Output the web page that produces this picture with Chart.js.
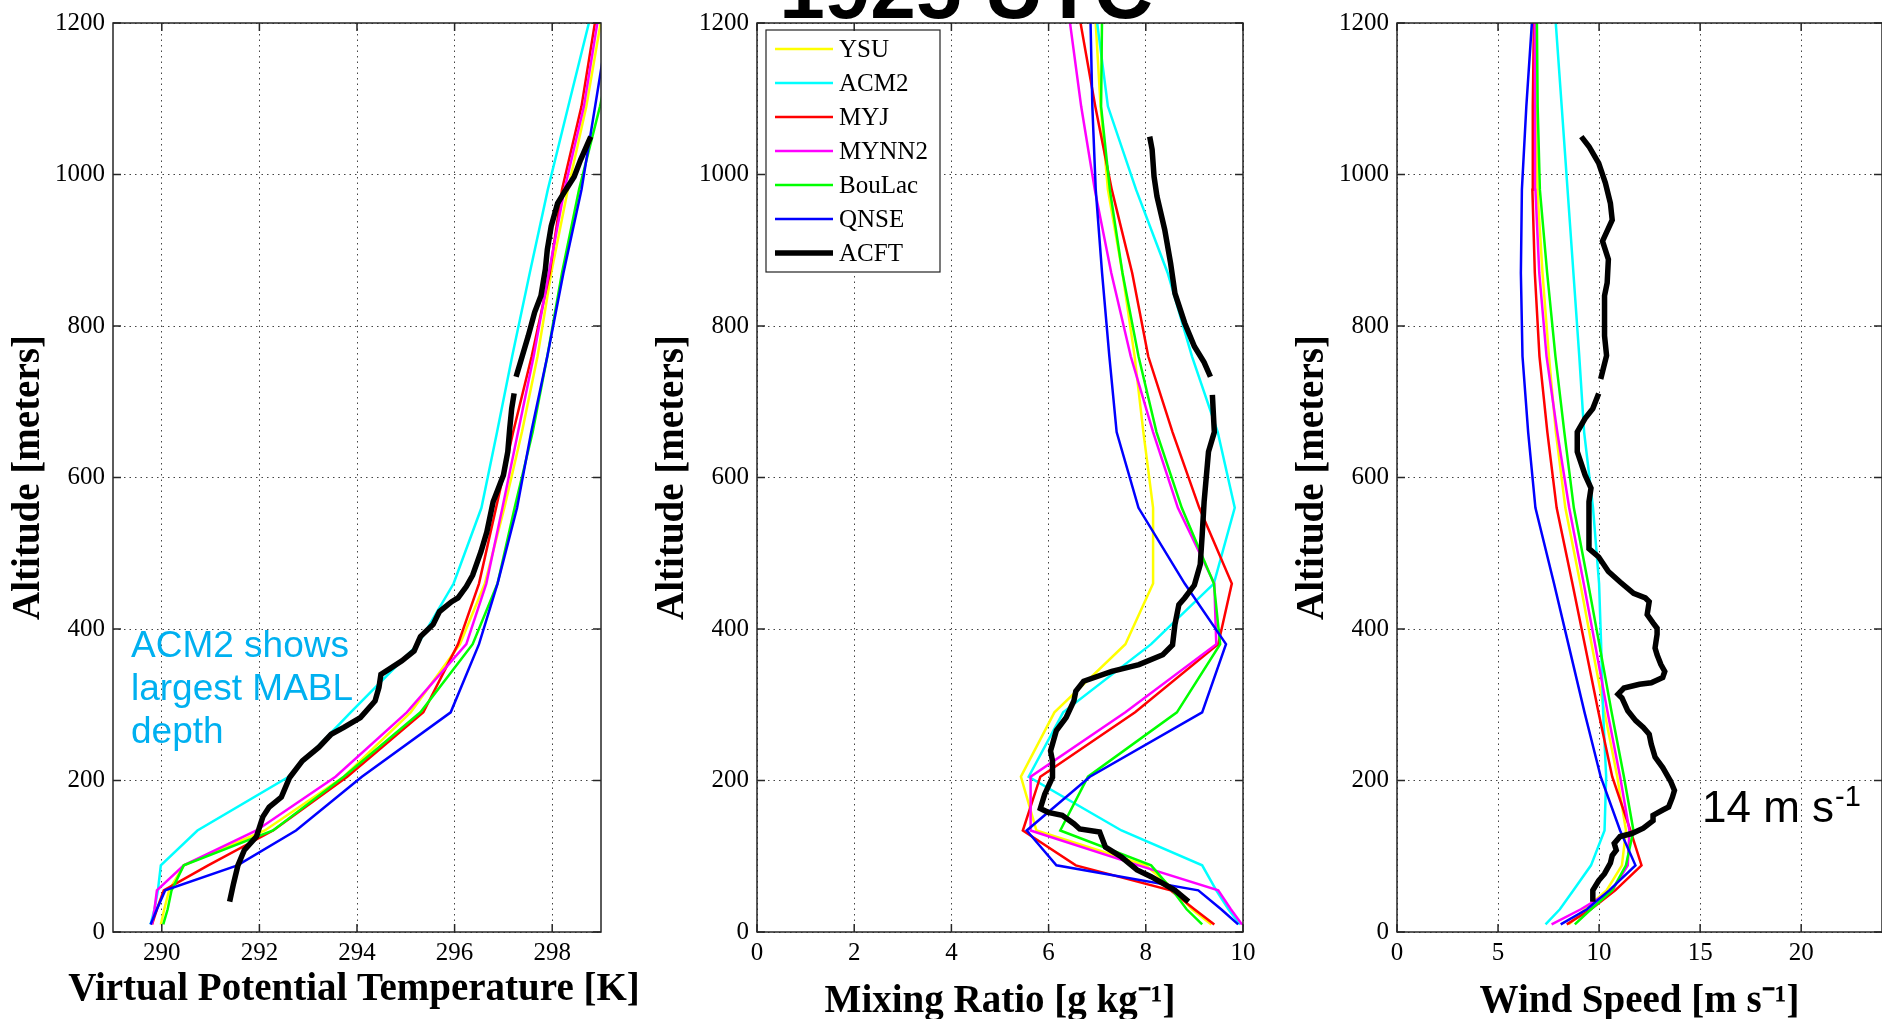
<!DOCTYPE html>
<html>
<head>
<meta charset="utf-8">
<script src="https://cdn.jsdelivr.net/npm/chart.js@4.4.1/dist/chart.umd.min.js"></script>
<style>
  html, body { margin: 0; padding: 0; background: #fff; overflow: hidden; }
  #wrap { position: relative; width: 1882px; height: 1019px; }
  canvas { position: absolute; left: 0; top: 0; }
</style>
</head>
<body>
<div id="wrap">
  <canvas id="thetaChart" width="1882" height="1019"></canvas>
  <canvas id="mixChart" width="1882" height="1019"></canvas>
  <canvas id="windChart" width="1882" height="1019"></canvas>
</div>
<script>
// Model levels (altitude, m)
const modelAlt = [10, 30, 55, 88, 134, 205, 290, 380, 460, 560, 660, 760, 870, 980, 1090, 1210];
const schemes = ['YSU', 'ACM2', 'MYJ', 'MYNN2', 'BouLac', 'QNSE'];
const schemeColors = ['#ffff00', '#00ffff', '#ff0000', '#ff00ff', '#00ff00', '#0000ff'];
const altTicks = [0, 200, 400, 600, 800, 1000, 1200];

// Virtual potential temperature [K]
const thetaYSU    = [289.98, 290.05, 290.15, 290.45, 292.11, 293.73, 295.10, 296.11, 296.62, 297.02, 297.38, 297.70, 297.98, 298.32, 298.70, 299.02];
const thetaACM2   = [289.77, 289.85, 289.92, 289.98, 290.73, 292.60, 293.87, 295.25, 295.98, 296.55, 296.87, 297.18, 297.54, 297.91, 298.33, 298.79];
const thetaMYJ    = [289.80, 289.90, 290.04, 290.95, 292.28, 293.80, 295.36, 296.07, 296.50, 296.85, 297.20, 297.58, 297.95, 298.20, 298.60, 298.90];
const thetaMYNN2  = [289.80, 289.85, 289.90, 290.45, 291.94, 293.56, 295.02, 296.24, 296.65, 296.98, 297.30, 297.62, 297.93, 298.25, 298.65, 298.95];
const thetaBouLac = [290.03, 290.12, 290.20, 290.45, 292.28, 293.73, 295.30, 296.37, 296.88, 297.23, 297.60, 297.90, 298.20, 298.55, 298.98, 299.38];
const thetaQNSE   = [289.77, 289.90, 290.07, 291.55, 292.75, 294.10, 295.92, 296.50, 296.88, 297.28, 297.57, 297.90, 298.23, 298.60, 298.88, 299.18];
const thetaTicks  = [290, 292, 294, 296, 298];

// aircraft profile (null = gap)
const acftThetaAlt = [40, 64, 88, 108, 126, 152, 165, 178, 204, 226, 244, 261, 270, 283, 305, 323, 340, 347, 358, 371, 390, 406, 423, 436, 441, 456, 471, 502, 528, 568, 603, 634, 665, 691, 711, null,
                      733, 761, 787, 818, 840, 875, 901, 932, 962, 980, 997, 1019, 1050];
const acftThetaVal = [291.39, 291.47, 291.56, 291.69, 291.94, 292.07, 292.20, 292.45, 292.62, 292.88, 293.22, 293.47, 293.73, 294.07, 294.37, 294.45, 294.49, 294.66, 294.92, 295.17, 295.30, 295.56, 295.69, 295.94, 296.07, 296.24, 296.37, 296.54, 296.66, 296.79, 297.00, 297.09, 297.13, 297.17, 297.22, null,
                      297.26, 297.39, 297.51, 297.64, 297.77, 297.86, 297.90, 297.98, 298.11, 298.28, 298.45, 298.58, 298.79];

// Mixing ratio [g/kg]
const mixYSU    = [9.35, 8.95, 8.60, 8.00, 5.75, 5.43, 6.12, 7.58, 8.15, 8.15, 7.95, 7.77, 7.52, 7.22, 7.07, 6.96];
const mixACM2   = [9.94, 9.70, 9.45, 9.16, 7.50, 5.59, 6.30, 8.11, 9.40, 9.83, 9.48, 8.95, 8.45, 7.80, 7.22, 6.98];
const mixMYJ    = [9.41, 9.00, 8.51, 6.56, 5.47, 5.83, 7.78, 9.49, 9.77, 9.10, 8.55, 8.05, 7.72, 7.30, 6.96, 6.63];
const mixMYNN2  = [9.98, 9.75, 9.49, 7.85, 5.63, 5.63, 7.58, 9.45, 9.41, 8.66, 8.15, 7.69, 7.29, 6.95, 6.67, 6.42];
const mixBouLac = [9.16, 8.84, 8.55, 8.11, 6.24, 6.81, 8.64, 9.53, 9.40, 8.74, 8.22, 7.85, 7.52, 7.26, 7.08, 7.10];
const mixQNSE   = [9.90, 9.55, 9.08, 6.16, 5.55, 6.85, 9.16, 9.65, 8.80, 7.85, 7.40, 7.25, 7.10, 6.97, 6.90, 6.86];
const mixTicks  = [0, 2, 4, 6, 8, 10];

const acftMixAlt = [40, 55, 73, 82, 99, 112, 132, 136, 143, 154, 158, 163, 182, 204, 226, 239, 266, 283, 305, 318, 331, 344, 353, 366, 379, 406, 432, 441, 458, 485, 524, 568, 634, 660, 709, null,
                    733, 752, 773, 804, 843, 883, 927, 971, 997, 1033, 1050];
const acftMixVal = [8.88, 8.60, 8.11, 7.82, 7.50, 7.17, 7.05, 6.64, 6.52, 6.28, 5.99, 5.83, 5.92, 6.08, 6.08, 6.04, 6.16, 6.36, 6.52, 6.56, 6.72, 7.30, 7.86, 8.35, 8.55, 8.60, 8.68, 8.80, 9.00, 9.12, 9.16, 9.20, 9.29, 9.41, 9.37, null,
                    9.33, 9.20, 9.00, 8.80, 8.60, 8.51, 8.39, 8.23, 8.17, 8.13, 8.08];

// Wind speed [m/s]
const windYSU    = [8.50, 9.30, 10.37, 11.13, 11.33, 10.90, 10.27, 9.63, 9.07, 8.33, 7.86, 7.52, 7.20, 6.95, 6.87, 6.85];
const windACM2   = [7.35, 8.06, 8.73, 9.60, 10.27, 10.35, 10.20, 10.10, 10.00, 9.70, 9.26, 9.02, 8.73, 8.44, 8.15, 7.83];
const windMYJ    = [8.40, 9.60, 10.80, 12.10, 11.55, 10.65, 9.97, 9.29, 8.68, 7.90, 7.44, 7.05, 6.82, 6.70, 6.72, 6.78];
const windMYNN2  = [7.65, 9.10, 10.65, 11.42, 11.50, 11.04, 10.42, 9.80, 9.24, 8.52, 7.93, 7.40, 7.04, 6.85, 6.83, 6.82];
const windBouLac = [8.80, 9.60, 10.65, 11.33, 11.70, 11.23, 10.62, 10.01, 9.46, 8.75, 8.28, 7.84, 7.43, 7.07, 6.96, 6.92];
const windQNSE   = [8.10, 9.40, 10.50, 11.80, 11.04, 10.08, 9.28, 8.48, 7.77, 6.85, 6.49, 6.21, 6.13, 6.18, 6.40, 6.70];
const windTicks  = [0, 5, 10, 15, 20];

const acftWindAlt = [40, 55, 68, 77, 91, 101, 108, 117, 126, 130, 137, 147, 154, 161, 165, 178, 187, 199, 217, 231, 248, 261, 270, 279, 292, 309, 314, 322, 327, 329, 336, 344, 353, 366, 375, 393, 401, 408, 419, 436, 441, 447, 462, 476, 495, 506, 524, 568, 586, 603, 634, 660, 678, 691, 711, null,
                     730, 761, 787, 840, 857, 888, 912, 940, 962, 989, 1015, 1037, 1050];
const acftWindVal = [9.69, 9.69, 9.98, 10.27, 10.56, 10.65, 10.85, 10.75, 11.04, 11.62, 12.19, 12.67, 12.67, 13.15, 13.44, 13.63, 13.73, 13.54, 13.15, 12.77, 12.58, 12.48, 12.19, 11.81, 11.42, 11.13, 10.94, 11.23, 12.00, 12.58, 13.15, 13.25, 13.06, 12.87, 12.77, 12.87, 12.87, 12.67, 12.38, 12.48, 12.29, 11.71, 11.04, 10.46, 9.98, 9.50, 9.50, 9.50, 9.60, 9.31, 8.92, 8.92, 9.31, 9.69, 9.98, null,
                     10.08, 10.37, 10.27, 10.27, 10.40, 10.46, 10.17, 10.65, 10.56, 10.31, 9.98, 9.50, 9.12];

Chart.defaults.font.family = '"Liberation Serif", "Times New Roman", serif';
Chart.defaults.color = '#000';

const tickFont = { size: 25 };

function toPoints(vals, alts) {
  return vals.map((v, i) => (v === null ? { x: null, y: null } : { x: v, y: alts[i] }));
}

function buildDatasets(modelSeries, acftVal, acftAlt) {
  const sets = modelSeries.map((vals, i) => ({
    label: schemes[i],
    data: toPoints(vals, modelAlt),
    borderColor: schemeColors[i],
    borderWidth: 2.5,
    showLine: true,
    pointRadius: 0,
    spanGaps: false,
    order: 10 - i
  }));
  sets.push({
    label: 'ACFT',
    data: toPoints(acftVal, acftAlt),
    borderColor: '#000',
    borderWidth: 5.5,
    showLine: true,
    pointRadius: 0,
    spanGaps: false,
    order: 1
  });
  return sets;
}

// box round the axes with inward ticks on all four sides
const framePlugin = {
  id: 'frame',
  afterDraw(chart) {
    const { ctx, chartArea: a, scales } = chart;
    ctx.save();
    ctx.strokeStyle = '#262626';
    ctx.lineWidth = 1.5;
    ctx.beginPath();
    scales.x.ticks.forEach(t => {
      const px = scales.x.getPixelForValue(t.value);
      ctx.moveTo(px, a.bottom); ctx.lineTo(px, a.bottom - 8);
      ctx.moveTo(px, a.top); ctx.lineTo(px, a.top + 8);
    });
    scales.y.ticks.forEach(t => {
      const py = scales.y.getPixelForValue(t.value);
      ctx.moveTo(a.left, py); ctx.lineTo(a.left + 8, py);
      ctx.moveTo(a.right, py); ctx.lineTo(a.right - 8, py);
    });
    ctx.stroke();
    ctx.strokeRect(a.left, a.top, a.right - a.left, a.bottom - a.top);
    ctx.restore();
  }
};

// legend box inside the mixing ratio panel
const legendBox = {
  id: 'legendBox',
  afterDatasetsDraw(chart) {
    const ctx = chart.ctx;
    const x0 = 766, y0 = 30, w = 174, h = 242;
    ctx.save();
    ctx.fillStyle = '#fff';
    ctx.fillRect(x0, y0, w, h);
    ctx.strokeStyle = '#222';
    ctx.lineWidth = 1.2;
    ctx.strokeRect(x0, y0, w, h);
    ctx.font = '25px "Liberation Serif"';
    ctx.textBaseline = 'middle';
    ctx.fillStyle = '#000';
    chart.data.datasets.forEach((ds, i) => {
      const yy = y0 + 19 + i * 34;
      ctx.strokeStyle = ds.borderColor;
      ctx.lineWidth = ds.borderWidth;
      ctx.beginPath();
      ctx.moveTo(x0 + 9, yy); ctx.lineTo(x0 + 67, yy);
      ctx.stroke();
      ctx.fillText(ds.label, x0 + 73, yy + 1);
    });
    ctx.restore();
  }
};

const headline = {
  id: 'headline',
  afterDraw(chart) {
    const ctx = chart.ctx;
    ctx.save();
    ctx.font = 'bold 82px "Liberation Sans"';
    ctx.fillStyle = '#000';
    ctx.textAlign = 'center';
    ctx.textBaseline = 'alphabetic';
    ctx.fillText('1925 UTC', 966, 18);
    ctx.restore();
  }
};

// x title of the first panel is wider than its axes, so draw it free
const thetaTitle = {
  id: 'thetaTitle',
  afterDraw(chart) {
    const ctx = chart.ctx;
    ctx.save();
    ctx.font = 'bold 39px "Liberation Serif"';
    ctx.fillStyle = '#000';
    ctx.textAlign = 'center';
    ctx.textBaseline = 'middle';
    ctx.fillText('Virtual Potential Temperature [K]', 354, 990);
    ctx.restore();
  }
};

const acmNote = {
  id: 'acmNote',
  afterDraw(chart) {
    const ctx = chart.ctx;
    ctx.save();
    ctx.font = '37px "Liberation Sans"';
    ctx.fillStyle = '#00b0f0';
    ['ACM2 shows', 'largest MABL', 'depth'].forEach((s, i) => ctx.fillText(s, 131, 657 + i * 43));
    ctx.restore();
  }
};

const jetNote = {
  id: 'jetNote',
  afterDraw(chart) {
    const ctx = chart.ctx;
    ctx.save();
    ctx.fillStyle = '#000';
    ctx.font = '44px "Liberation Sans"';
    ctx.fillText('14 m s', 1702, 822);
    const w = ctx.measureText('14 m s').width;
    ctx.font = '29px "Liberation Sans"';
    ctx.fillText('-1', 1702 + w + 1, 806);
    ctx.restore();
  }
};

function makeOptions(cfg) {
  return {
    responsive: false,
    animation: false,
    devicePixelRatio: 1,
    layout: { padding: { left: cfg.padLeft, right: cfg.padRight, top: 19, bottom: 0 } },
    plugins: { legend: { display: false }, tooltip: { enabled: false } },
    scales: {
      x: {
        type: 'linear',
        min: cfg.xMin,
        max: cfg.xMax,
        afterFit: s => { s.height = 87; },
        afterBuildTicks: s => { s.ticks = cfg.xTicks.map(v => ({ value: v })); },
        grid: { color: '#444', lineWidth: 1, drawTicks: false },
        border: { display: false, dash: [1.5, 4] },
        ticks: { padding: 6, font: tickFont, maxRotation: 0, callback: v => String(v) },
        title: { display: cfg.xTitle !== '', text: cfg.xTitle, font: { size: 39, weight: 'bold' },
                 padding: { top: 0, bottom: -6 } }
      },
      y: {
        type: 'linear',
        min: 0,
        max: 1200,
        afterFit: s => { s.width = 113; },
        afterBuildTicks: s => { s.ticks = altTicks.map(v => ({ value: v })); },
        grid: { color: '#444', lineWidth: 1, drawTicks: false },
        border: { display: false, dash: [1.5, 4] },
        ticks: { padding: 8, font: tickFont, callback: v => String(v) },
        title: { display: true, text: 'Altitude [meters]', font: { size: 39, weight: 'bold' },
                 padding: { top: 6, bottom: 0 } }
      }
    }
  };
}

new Chart(document.getElementById('thetaChart'), {
  type: 'scatter',
  data: { datasets: buildDatasets([thetaYSU, thetaACM2, thetaMYJ, thetaMYNN2, thetaBouLac, thetaQNSE], acftThetaVal, acftThetaAlt) },
  options: makeOptions({ padLeft: 0, padRight: 1281, xMin: 289, xMax: 299, xTicks: thetaTicks, xTitle: '' }),
  plugins: [framePlugin, acmNote, thetaTitle]
});

new Chart(document.getElementById('mixChart'), {
  type: 'scatter',
  data: { datasets: buildDatasets([mixYSU, mixACM2, mixMYJ, mixMYNN2, mixBouLac, mixQNSE], acftMixVal, acftMixAlt) },
  options: makeOptions({ padLeft: 644, padRight: 639, xMin: 0, xMax: 10, xTicks: mixTicks,
                         xTitle: 'Mixing Ratio [g kg\u207B\u00B9]' }),
  plugins: [framePlugin, legendBox, headline]
});

new Chart(document.getElementById('windChart'), {
  type: 'scatter',
  data: { datasets: buildDatasets([windYSU, windACM2, windMYJ, windMYNN2, windBouLac, windQNSE], acftWindVal, acftWindAlt) },
  options: makeOptions({ padLeft: 1284, padRight: 0, xMin: 0, xMax: 24, xTicks: windTicks,
                         xTitle: 'Wind Speed [m s\u207B\u00B9]' }),
  plugins: [framePlugin, jetNote]
});
</script>
</body>
</html>
